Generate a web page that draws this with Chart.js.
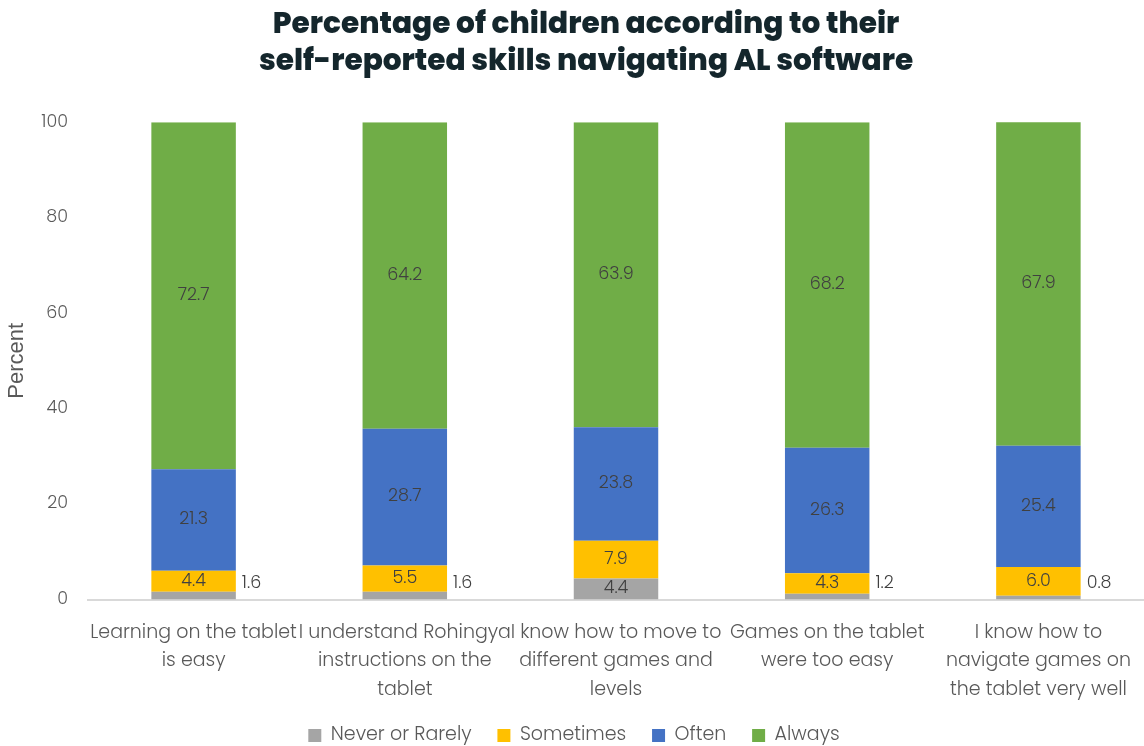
<!DOCTYPE html>
<html lang="en">
<head>
<meta charset="UTF-8">
<title>Self-reported skills navigating AL software</title>
<script src="https://cdn.jsdelivr.net/npm/chart.js@4"></script>
<style>
    html, body { margin: 0; padding: 0; background: #ffffff; }
    .chart-box { width: 1144px; height: 746px; position: relative; }
</style>
</head>
<body>
<div class="chart-box">
    <canvas id="skillsChart"></canvas>
</div>
<script>
    // chart data
    const categories = [
        ['Learning on the tablet', 'is easy'],
        ['I understand Rohingya', 'instructions on the', 'tablet'],
        ['I know how to move to', 'different games and', 'levels'],
        ['Games on the tablet', 'were too easy'],
        ['I know how to', 'navigate games on', 'the tablet very well']
    ];
    const seriesNames = ['Never or Rarely', 'Sometimes', 'Often', 'Always'];
    const neverRarely = [1.6, 1.6, 4.4, 1.2, 0.8];
    const sometimes = [4.4, 5.5, 7.9, 4.3, 6.0];
    const often = [21.3, 28.7, 23.8, 26.3, 25.4];
    const always = [72.7, 64.2, 63.9, 68.2, 67.9];
    const yTicks = [0, 20, 40, 60, 80, 100];

    const colors = ['#A5A5A5', '#FFC000', '#4472C4', '#70AD47'];
    const font = "Poppins, 'Open Sans', Inter, sans-serif";
    const textGrey = '#595959';

    // labels drawn in the bar, or beside it when the segment is too thin
    const barLabels = {
        id: 'barLabels',
        afterLayout(chart) {
            // the title sits a little right of the canvas centre
            if (chart.titleBlock) chart.titleBlock.left += 24;
        },
        afterDatasetsDraw(chart) {
            const ctx = chart.ctx;
            ctx.save();
            ctx.font = '300 17.5px ' + font;
            ctx.fillStyle = '#404040';
            ctx.textBaseline = 'middle';
            chart.data.datasets.forEach((ds, di) => {
                chart.getDatasetMeta(di).data.forEach((bar, i) => {
                    const h = Math.abs(bar.base - bar.y);
                    const txt = ds.data[i].toFixed(1);
                    if (h >= 14) {
                        ctx.textAlign = 'center';
                        ctx.fillText(txt, bar.x, (bar.y + bar.base) / 2);
                    } else {
                        ctx.textAlign = 'left';
                        ctx.fillText(txt, bar.x + bar.width / 2 + 6, bar.base - 16);
                    }
                });
            });
            ctx.restore();
        }
    };

    const ctx = document.getElementById('skillsChart').getContext('2d');
    new Chart(ctx, {
        type: 'bar',
        data: {
            labels: categories,
            datasets: [neverRarely, sometimes, often, always].map((vals, k) => ({
                label: seriesNames[k],
                data: vals,
                backgroundColor: colors[k],
                borderWidth: 0,
                barPercentage: 0.4,
                categoryPercentage: 1
            }))
        },
        options: {
            responsive: true,
            maintainAspectRatio: false,
            animation: false,
            layout: { padding: { top: 8, right: 0, left: 4, bottom: -9 } },
            plugins: {
                title: {
                    display: true,
                    text: ['Percentage of children according to their', 'self-reported skills navigating AL software'],
                    color: '#14262c',
                    font: { family: font, size: 29.6, weight: '800', lineHeight: 1.22 },
                    padding: { top: 0, bottom: 42 }
                },
                legend: {
                    position: 'bottom',
                    labels: {
                        color: textGrey,
                        boxWidth: 13,
                        boxHeight: 13,
                        padding: 3,
                        font: { family: font, size: 19, weight: '300' },
                        generateLabels(chart) {
                            const items = Chart.defaults.plugins.legend.labels.generateLabels(chart);
                            // widen the gap between legend entries
                            items.forEach((it, i) => {
                                if (i < items.length - 1) it.text += '\u2002\u2002\u2009';
                            });
                            return items;
                        }
                    }
                },
                tooltip: { enabled: false }
            },
            scales: {
                x: {
                    stacked: true,
                    grid: { display: false, drawTicks: false },
                    border: { display: true, color: '#D9D9D9', width: 2 },
                    afterFit(axis) { axis.paddingLeft = 0; axis.paddingRight = 0; },
                    ticks: {
                        color: textGrey,
                        maxRotation: 0,
                        autoSkip: false,
                        padding: 19,
                        font: { family: font, size: 19, weight: '300', lineHeight: 1.5 }
                    }
                },
                y: {
                    stacked: true,
                    min: 0,
                    max: 100,
                    afterBuildTicks(axis) { axis.ticks = yTicks.map(v => ({ value: v })); },
                    afterFit(axis) { axis.width = 84; },
                    grid: { display: false, drawTicks: false },
                    border: { display: false },
                    title: {
                        display: true,
                        text: 'Percent',
                        color: textGrey,
                        font: { family: "'Liberation Sans', Arial, sans-serif", size: 22 },
                        padding: 0
                    },
                    ticks: {
                        color: textGrey,
                        padding: 20,
                        font: { family: font, size: 17.5, weight: '300' }
                    }
                }
            }
        },
        plugins: [barLabels]
    });
</script>
</body>
</html>
